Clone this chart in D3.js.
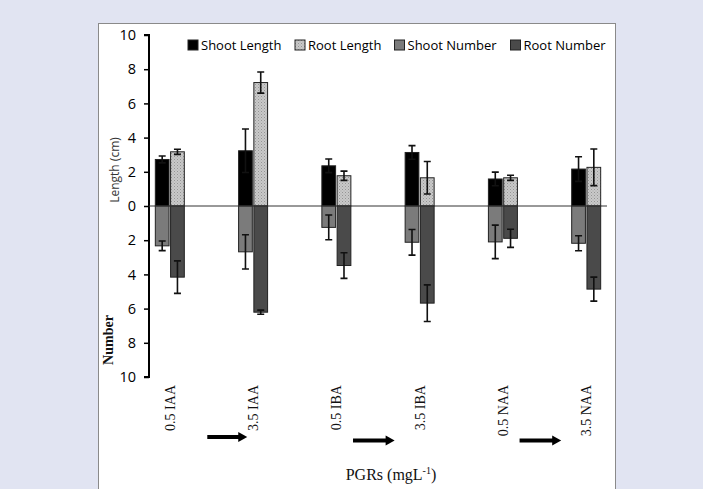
<!DOCTYPE html>
<html>
<head>
<meta charset="utf-8">
<script src="https://cdn.jsdelivr.net/npm/d3@7"></script>
<style>
  body { margin: 0; background: #e1e4f2; }
  svg { display: block; }
</style>
</head>
<body>
<div id="chart"></div>
<script>
// categories (PGR treatments)
const categories = ['0.5 IAA', '3.5 IAA', '0.5 IBA', '3.5 IBA', '0.5 NAA', '3.5 NAA'];

// upper half: lengths (cm)
const shootLength    = [2.72, 3.23, 2.35, 3.13, 1.58, 2.16];
const shootLengthErr = [0.20, 1.27, 0.40, 0.40, 0.40, 0.72];
const rootLength     = [3.17, 7.22, 1.77, 1.65, 1.65, 2.26];
const rootLengthErr  = [0.15, 0.62, 0.27, 0.95, 0.15, 1.07];

// lower half: numbers
const shootNumber    = [2.33, 2.68, 1.25, 2.12, 2.10, 2.18];
const shootNumberErr = [0.28, 1.00, 0.72, 0.75, 0.98, 0.44];
const rootNumber     = [4.16, 6.21, 3.48, 5.68, 1.89, 4.86];
const rootNumberErr  = [0.95, 0.12, 0.75, 1.07, 0.53, 0.70];

const seriesNames = ['Shoot Length', 'Root Length', 'Shoot Number', 'Root Number'];
const yTicks = [-10, -8, -6, -4, -2, 0, 2, 4, 6, 8, 10];

// arrows: from category, to category (drawn between label pairs)
const arrows = [['0.5 IAA', '3.5 IAA'], ['0.5 IBA', '3.5 IBA'], ['0.5 NAA', '3.5 NAA']];

const W = 703, H = 489;
const fills = {
  'Shoot Length': '#000000',
  'Root Length': 'url(#dots)',
  'Shoot Number': '#7b7b7b',
  'Root Number': '#4a4a4a'
};

const svg = d3.select('#chart').append('svg')
  .attr('width', W).attr('height', H);

const defs = svg.append('defs');
const pat = defs.append('pattern')
  .attr('id', 'dots').attr('patternUnits', 'userSpaceOnUse')
  .attr('width', 3).attr('height', 3);
pat.append('rect').attr('width', 3).attr('height', 3).attr('fill', '#c9c9c9');
pat.append('rect').attr('width', 1).attr('height', 1).attr('fill', '#959595');
pat.append('rect').attr('x', 1.5).attr('y', 1.5).attr('width', 1).attr('height', 1).attr('fill', '#a8a8a8');

// white panel
svg.append('rect')
  .attr('x', 98.5).attr('y', 23.5).attr('width', 517).attr('height', 480)
  .attr('fill', '#fff').attr('stroke', '#8a8a8a').attr('stroke-width', 1);

const axisX = 149, plotRight = 607;
const x0 = d3.scalePoint().domain(categories).range([axisX, plotRight]).padding(0.25);
const x1 = d3.scaleBand().domain([0, 1]).range([-14.5, 14.5]).paddingInner(0.1);
const y = d3.scaleLinear().domain([-10, 10]).range([377, 35]);

// y axis
svg.append('g')
  .attr('transform', `translate(${axisX},0)`)
  .call(d3.axisLeft(y).tickValues(yTicks).tickFormat(d => Math.abs(d)).tickSize(5).tickPadding(8))
  .call(g => g.select('.domain').attr('stroke', '#000').attr('stroke-width', 2).attr('d', `M-5,${y(-10)}H0V${y(10)}H-5`))
  .call(g => g.selectAll('.tick line').attr('stroke', '#000').attr('stroke-width', 1.5))
  .call(g => g.selectAll('.tick text').attr('fill', '#000')
    .style('font-family', '"Open Sans", sans-serif').style('font-size', '14.5px'));

// bars
const bars = [];
categories.forEach((c, i) => {
  bars.push({ cat: c, slot: 0, s: 'Shoot Length', v: shootLength[i], e: shootLengthErr[i], sign: 1 });
  bars.push({ cat: c, slot: 1, s: 'Root Length', v: rootLength[i], e: rootLengthErr[i], sign: 1 });
  bars.push({ cat: c, slot: 0, s: 'Shoot Number', v: shootNumber[i], e: shootNumberErr[i], sign: -1 });
  bars.push({ cat: c, slot: 1, s: 'Root Number', v: rootNumber[i], e: rootNumberErr[i], sign: -1 });
});

const bx = d => x0(d.cat) + x1(d.slot);
svg.append('g').selectAll('rect').data(bars).join('rect')
  .attr('x', bx)
  .attr('width', x1.bandwidth())
  .attr('y', d => Math.min(y(0), y(d.sign * d.v)))
  .attr('height', d => Math.abs(y(d.sign * d.v) - y(0)))
  .attr('fill', d => fills[d.s])
  .attr('stroke', '#222').attr('stroke-width', 1);

// error bars
const eg = svg.append('g').attr('stroke', '#111').attr('stroke-width', 1.6).attr('fill', 'none');
eg.selectAll('path').data(bars).join('path')
  .attr('d', d => {
    const cx = bx(d) + x1.bandwidth() / 2;
    const a = y(d.sign * (d.v - d.e)), b = y(d.sign * (d.v + d.e));
    return `M${cx},${a}V${b}M${cx - 3.5},${a}H${cx + 3.5}M${cx - 3.5},${b}H${cx + 3.5}`;
  });

// zero line
svg.append('line')
  .attr('x1', axisX).attr('x2', plotRight).attr('y1', y(0)).attr('y2', y(0))
  .attr('stroke', '#333').attr('stroke-width', 1);

// legend
const legendX = [188, 295, 394.5, 510.5];
const lg = svg.append('g').selectAll('g').data(seriesNames).join('g')
  .attr('transform', (d, i) => `translate(${legendX[i]},40)`);
lg.append('rect').attr('width', 10).attr('height', 10)
  .attr('fill', d => fills[d]).attr('stroke', '#222').attr('stroke-width', 1);
lg.append('text').attr('x', 13).attr('y', 10)
  .style('font-family', '"Open Sans", sans-serif').style('font-size', '13px')
  .attr('fill', '#000').text(d => d);

// axis titles
svg.append('text')
  .attr('transform', 'translate(119,170) rotate(-90)')
  .attr('text-anchor', 'middle')
  .style('font-family', '"Open Sans", sans-serif').style('font-size', '12px')
  .attr('fill', '#333').text('Length (cm)');
svg.append('text')
  .attr('transform', 'translate(113,340) rotate(-90)')
  .attr('text-anchor', 'middle')
  .style('font-family', '"Liberation Serif", serif').style('font-size', '14px')
  .style('font-weight', 'bold').attr('fill', '#111').text('Number');

// category labels
svg.append('g').selectAll('text').data(categories).join('text')
  .attr('transform', d => `translate(${x0(d) + 5},385) rotate(-90)`)
  .attr('text-anchor', 'end')
  .style('font-family', '"Liberation Serif", serif').style('font-size', '14px')
  .attr('fill', '#111').text(d => d);

// arrows
const step = x0.step();
const ag = svg.append('g');
arrows.forEach(([a, b], i) => {
  const xs = x0(a) + step * (i === 0 ? 0.45 : 0.2);
  const xe = x0(b) - step * (i === 0 ? 0.07 : 0.3);
  const yy = i === 0 ? 437 : 440.5;
  ag.append('line').attr('x1', xs).attr('x2', xe - 6).attr('y1', yy).attr('y2', yy)
    .attr('stroke', '#000').attr('stroke-width', 4);
  ag.append('path')
    .attr('d', `M${xe - 9},${yy - 5}L${xe},${yy}L${xe - 9},${yy + 5}Z`)
    .attr('fill', '#000');
});

// x title
const xt = svg.append('text')
  .attr('x', 391).attr('y', 480).attr('text-anchor', 'middle')
  .style('font-family', '"Liberation Serif", serif').style('font-size', '16px')
  .attr('fill', '#111');
xt.append('tspan').text('PGRs (mgL');
xt.append('tspan').attr('dy', -6).style('font-size', '10px').text('-1');
xt.append('tspan').attr('dy', 6).text(')');
</script>
</body>
</html>
